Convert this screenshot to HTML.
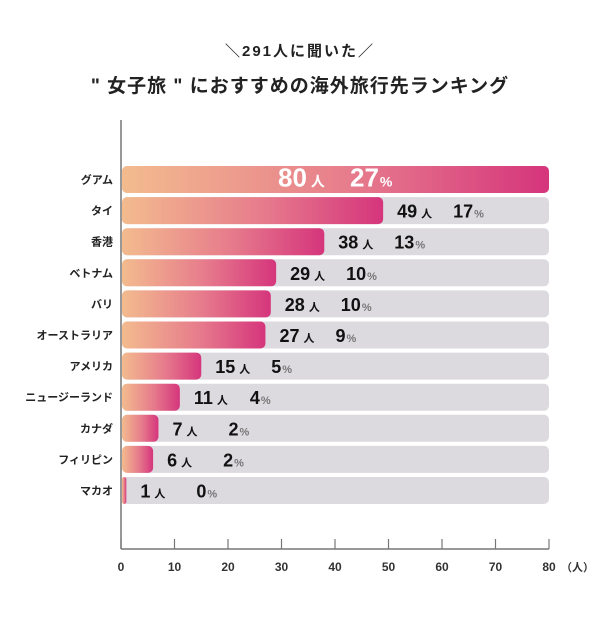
<!DOCTYPE html>
<html><head><meta charset="utf-8"><style>
body{margin:0;background:#fff;width:600px;height:625px;overflow:hidden;font-family:"Liberation Sans","Noto Sans CJK JP",sans-serif}
.t{position:absolute;left:0;width:600px;text-align:center;font-weight:bold;color:#222}
</style></head><body>
<div class="t" style="top:40px;font-size:15px;letter-spacing:2px">＼291人に聞いた／</div>
<div class="t" style="top:71px;font-size:19px;letter-spacing:1px">" 女子旅 " におすすめの海外旅行先ランキング</div>
<svg id="c" width="600" height="625" style="position:absolute;left:0;top:0" font-family="Liberation Sans, Noto Sans CJK JP, sans-serif">
<defs><linearGradient id="g" x1="0" x2="1" y1="0" y2="0"><stop offset="0" stop-color="#f3bb8e"/><stop offset="0.55" stop-color="#e67a8c"/><stop offset="1" stop-color="#d5357c"/></linearGradient></defs>
</svg>
<script>
const categories=["グアム","タイ","香港","ベトナム","バリ","オーストラリア","アメリカ","ニュージーランド","カナダ","フィリピン","マカオ"];
const counts=[80,49,38,29,28,27,15,11,7,6,1];
const percents=[27,17,13,10,10,9,5,4,2,2,0];
const ticks=[0,10,20,30,40,50,60,70,80];
const NS="http://www.w3.org/2000/svg",svg=document.getElementById('c');
const x0=121,x1=549,maxV=80,top0=166,pitch=31.1,bh=27,base=549;
const X=v=>x0+(v/maxV)*(x1-x0);
function mk(t,a,txt){const e=document.createElementNS(NS,t);for(const k in a)e.setAttribute(k,a[k]);if(txt!=null)e.textContent=txt;svg.appendChild(e);return e;}
categories.forEach((c,i)=>{
 const y=top0+i*pitch;
 const bg=mk('rect',{x:x0+1,y:y,width:x1-x0-1,height:bh,rx:5,fill:'#dcdadf'});
 
 
 const w=Math.max(X(counts[i])-x0-1,3);
 const b=mk('rect',{x:x0+1,y:y,width:w,height:bh,rx:Math.min(5,w/2),fill:'url(#g)'});
 
 
 const l=mk('text',{x:113,y:y+bh/2+4,'text-anchor':'end','font-size':11,'font-weight':'bold',fill:'#222'},c);
 
 
 const inside=X(counts[i])>x1-20;
 const sx=inside?278:X(counts[i])+14, col=inside?'#fff':'#111', pc=inside?'#fff':'#777';
 const v=mk('text',{x:sx,y:y+bh/2+7,'font-size':inside?26:18,'font-weight':'bold',fill:col});
 
 
 const a=document.createElementNS(NS,'tspan');a.textContent=counts[i];v.appendChild(a);
 const u=document.createElementNS(NS,'tspan');u.setAttribute('font-size',inside?14:11);u.setAttribute('dx',4);u.textContent='人';v.appendChild(u);
 const p=mk('text',{x:sx+(inside?72:56),y:y+bh/2+7,'font-size':inside?26:18,'font-weight':'bold',fill:col});
 
 
 const pa=document.createElementNS(NS,'tspan');pa.textContent=percents[i];p.appendChild(pa);
 const pu=document.createElementNS(NS,'tspan');pu.setAttribute('font-size',inside?14:11);pu.setAttribute('fill',pc);pu.setAttribute('dx',1);pu.textContent='%';p.appendChild(pu);
});
const ax=mk('line',{x1:x0,y1:120,x2:x0,y2:base,stroke:'#777','stroke-width':1.5});

const bx=mk('line',{x1:x0,y1:base,x2:x1,y2:base,stroke:'#777','stroke-width':1.5});

ticks.forEach(t=>{
 const tk=mk('line',{x1:X(t),y1:base-10,x2:X(t),y2:base,stroke:'#777','stroke-width':1.2});
 
 const tl=mk('text',{x:X(t),y:571,'text-anchor':'middle','font-size':12,'font-weight':'bold',fill:'#333'},t);
 
});
const un=mk('text',{x:X(80)+12,y:571,'font-size':11,'font-weight':'bold',fill:'#333'},'（人）');

</script>
</body></html>
